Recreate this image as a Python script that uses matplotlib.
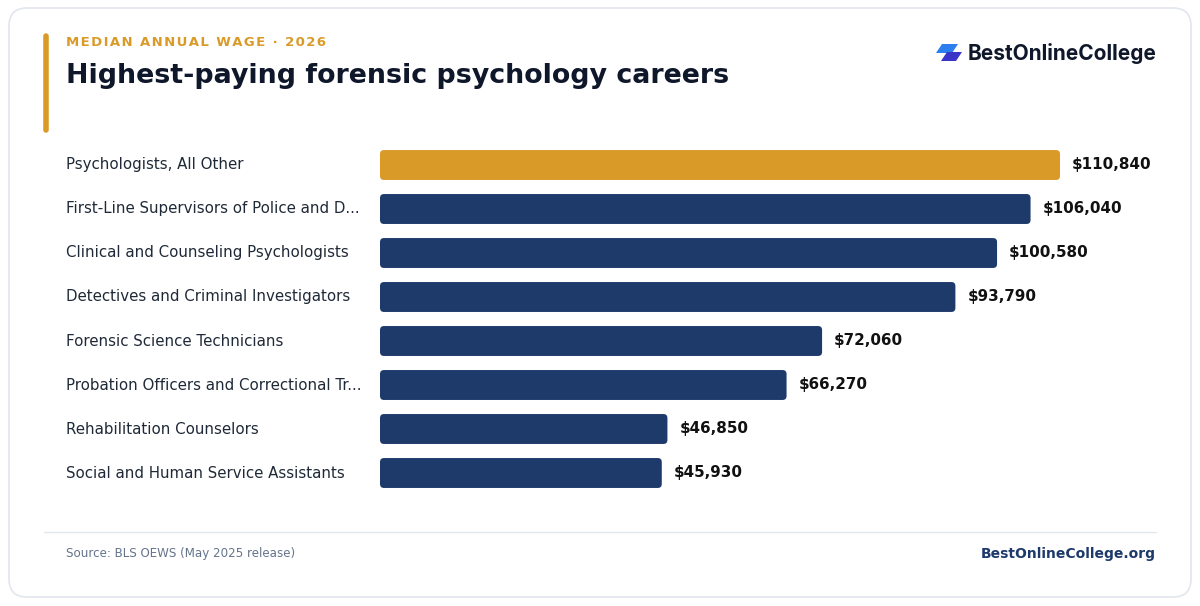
import matplotlib
matplotlib.use("Agg")
import matplotlib.pyplot as plt
from matplotlib.patches import FancyBboxPatch, Polygon
from matplotlib.lines import Line2D

plt.rcParams["font.family"] = ["DejaVu Sans"]

# data
careers = [
    "Psychologists, All Other",
    "First-Line Supervisors of Police and D...",
    "Clinical and Counseling Psychologists",
    "Detectives and Criminal Investigators",
    "Forensic Science Technicians",
    "Probation Officers and Correctional Tr...",
    "Rehabilitation Counselors",
    "Social and Human Service Assistants",
]
wages = [110840, 106040, 100580, 93790, 72060, 66270, 46850, 45930]

GOLD = "#d99a28"
NAVY = "#1e3a6b"
INK = "#0f172a"

W, H = 1200, 606
fig = plt.figure(figsize=(W / 100, H / 100), dpi=100)
fig.patch.set_facecolor("white")

def fx(px):
    return px / W

def fy(py):
    return 1 - py / H

# card
card = FancyBboxPatch((fx(9), fy(597)), fx(1182), 589 / H,
                      boxstyle="round,pad=0,rounding_size=0.015",
                      mutation_aspect=W / H,
                      transform=fig.transFigure, facecolor="white",
                      edgecolor="#e2e6ee", linewidth=1.2, zorder=-10)
fig.add_artist(card)

# gold accent bar
fig.add_artist(Line2D([fx(46), fx(46)], [fy(36), fy(130)], color=GOLD,
                      linewidth=4, solid_capstyle="round",
                      transform=fig.transFigure))

kicker = "\u200a".join("MEDIAN ANNUAL WAGE · 2026")
fig.text(fx(66), fy(42), kicker,
         color=GOLD, fontsize=9.5, fontweight="bold", va="center", ha="left")
fig.text(fx(66), fy(76), "Highest-paying forensic psychology careers",
         color=INK, fontsize=19.4, fontweight="bold", va="center", ha="left")

# logo
fig.add_artist(Polygon([(fx(942), fy(44)), (fx(958), fy(44)), (fx(952), fy(53)),
                        (fx(936), fy(53))], closed=True, facecolor="#2d7ff0",
                       edgecolor="none", transform=fig.transFigure))
fig.add_artist(Polygon([(fx(947), fy(52)), (fx(962), fy(52)), (fx(956), fy(61)),
                        (fx(941), fy(61))], closed=True, facecolor="#3a35c9",
                       edgecolor="none", transform=fig.transFigure))
fig.text(fx(968), fy(53), "BestOnlineCollege", family="Inter", fontweight="bold",
         fontsize=15, color=INK, va="center", ha="left")

# bars
ax = fig.add_axes([fx(380), fy(495), fx(1060) - fx(380), 352 / H])
y = list(range(len(careers)))
bars = ax.barh(y, wages, height=0.68, color=NAVY)
ax.set_xlim(0, wages[0])
ax.set_ylim(len(careers) - 0.5, -0.5)
ax.axis("off")

xs = wages[0] / 680.0   # data units per px in x
ys = 1 / 44.0           # data units per px in y
for i, b in enumerate(bars):
    x0, y0 = b.get_x(), b.get_y()
    bw, bh = b.get_width(), b.get_height()
    b.remove()
    c = GOLD if i == 0 else NAVY
    p = FancyBboxPatch((x0, y0), bw, bh,
                       boxstyle="round,pad=0,rounding_size=%f" % (4 * xs),
                       mutation_aspect=ys / xs, facecolor=c, edgecolor="none")
    ax.add_patch(p)
    ax.text(bw + 12 * xs, i, "${:,}".format(wages[i]), va="center", ha="left",
            fontsize=10.9, fontweight="bold", color="#111111", clip_on=False)
    ax.text(-314 * xs, i, careers[i], va="center", ha="left", fontsize=10.8,
            color="#1f2937", clip_on=False)

# footer
fig.add_artist(Line2D([fx(44), fx(1156)], [fy(532), fy(532)], color="#e2e6ee",
                      linewidth=1, transform=fig.transFigure))
fig.text(fx(66), fy(554), "Source: BLS OEWS (May 2025 release)", color="#64748b",
         fontsize=8.6, va="center", ha="left")
fig.text(fx(1156), fy(554), "BestOnlineCollege.org", color=NAVY,
         fontsize=10, fontweight="bold", va="center", ha="right")

fig.savefig("out.png", dpi=100, facecolor="white")
